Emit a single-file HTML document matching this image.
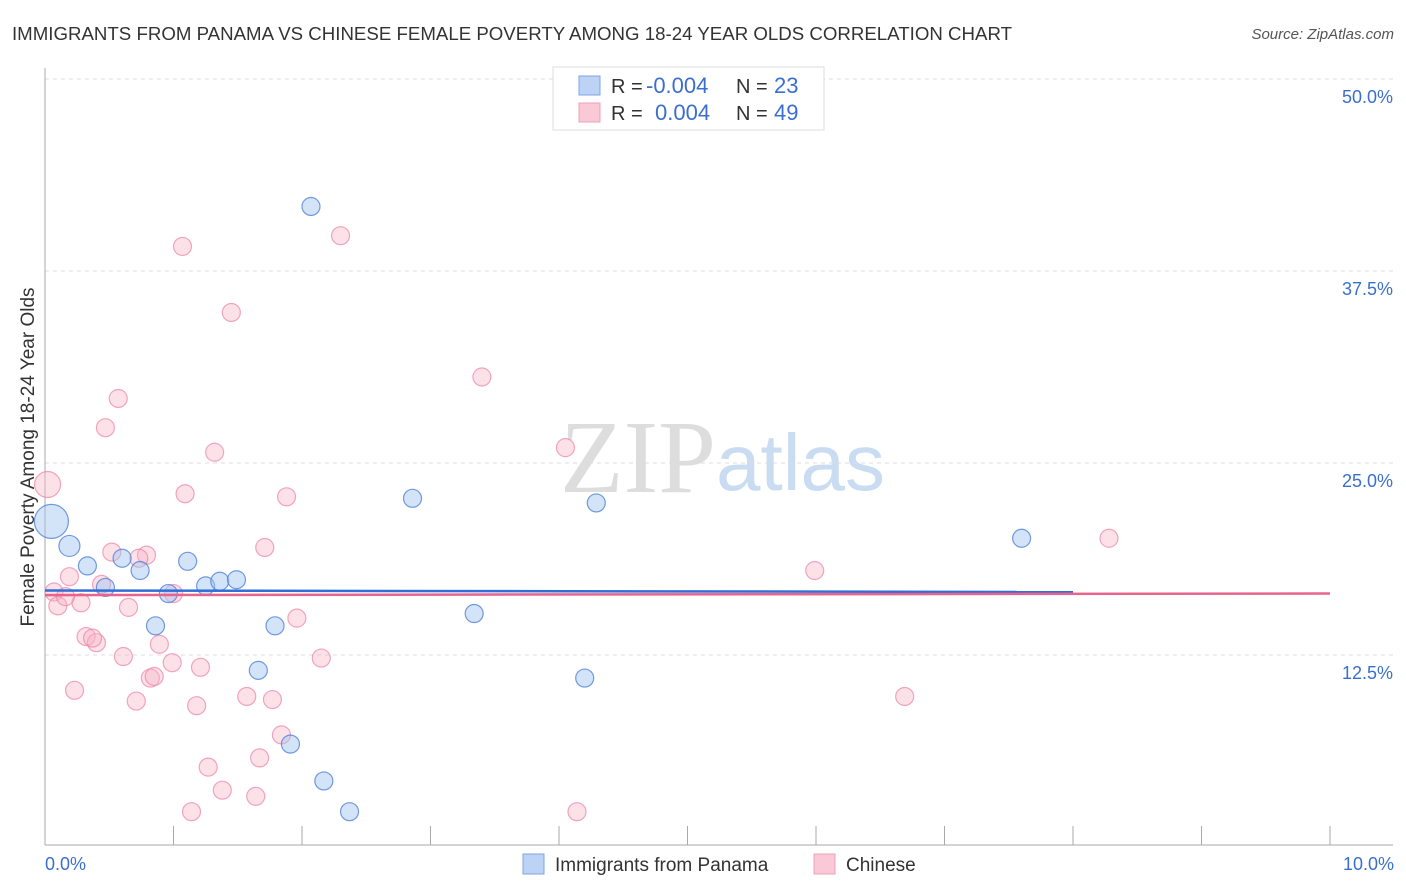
<!DOCTYPE html>
<html><head><meta charset="utf-8"><style>
body{margin:0;background:#fff;font-family:"Liberation Sans",sans-serif}
svg{display:block}
</style></head><body>
<svg id="chart" width="1406" height="892">
<text x="12" y="40" font-size="18" textLength="1000" lengthAdjust="spacingAndGlyphs" fill="#333">IMMIGRANTS FROM PANAMA VS CHINESE FEMALE POVERTY AMONG 18-24 YEAR OLDS CORRELATION CHART</text>
<text x="1394" y="39" font-size="15" fill="#555" font-style="italic" text-anchor="end">Source: ZipAtlas.com</text>
<text x="716" y="492" font-size="104" fill="#ddd" text-anchor="end" font-family="Liberation Serif,serif">ZIP</text>
<text x="716" y="490" font-size="80" fill="#c9dcf2">atlas</text>
<g id="grid"></g><g id="axes"></g><g id="marks"></g>
<text transform="translate(34,457) rotate(-90)" font-size="19" fill="#333" text-anchor="middle">Female Poverty Among 18-24 Year Olds</text>
<text x="45" y="870" font-size="18" fill="#3a6fd0">0.0%</text>
<text x="1394" y="870" font-size="18" fill="#3a6fd0" text-anchor="end">10.0%</text>
<g>
<rect x="553" y="67" width="271" height="63" fill="#fff" stroke="#ddd"/>
<rect x="579" y="76" width="21" height="19" fill="#bcd3f5" stroke="#7ea6e6"/>
<rect x="579" y="103" width="21" height="19" fill="#f9c9d7" stroke="#f0a0b8"/>
<text x="611" y="93" font-size="20" fill="#333">R = <tspan fill="#3a6fd0" x="646" font-size="22">-0.004</tspan></text>
<text x="736" y="93" font-size="20" fill="#333">N = <tspan fill="#3a6fd0" x="774" font-size="22">23</tspan></text>
<text x="611" y="120" font-size="20" fill="#333">R = <tspan fill="#3a6fd0" x="655" font-size="22">0.004</tspan></text>
<text x="736" y="120" font-size="20" fill="#333">N = <tspan fill="#3a6fd0" x="774" font-size="22">49</tspan></text>
</g>
<g>
<rect x="523" y="854" width="21" height="20" fill="#bcd3f5" stroke="#7ea6e6"/>
<text x="555" y="871" font-size="19" fill="#333">Immigrants from Panama</text>
<rect x="814" y="854" width="21" height="20" fill="#f9c9d7" stroke="#f0a0b8"/>
<text x="846" y="871" font-size="19" fill="#333">Chinese</text>
</g>
</svg>
<script>
const yTicks=[12.5,25,37.5,50];
const yTickLabels=["12.5%","25.0%","37.5%","50.0%"];
const xTicks=[0,1,2,3,4,5,6,7,8,9,10];
const panamaX=[0.05,0.19,0.33,0.60,0.74,0.86,0.96,1.11,1.25,1.36,1.49,1.66,1.79,1.91,2.07,2.17,2.37,2.86,3.34,4.20,4.29,7.60,0.47];
const panamaY=[21.2,19.6,18.3,18.8,18.0,14.4,16.5,18.6,17.0,17.3,17.4,11.5,14.4,6.7,41.7,4.3,2.3,22.7,15.2,11.0,22.4,20.1,16.9];
const chineseX=[0.02,0.07,0.10,0.16,0.19,0.23,0.28,0.32,0.40,0.44,0.47,0.52,0.57,0.61,0.65,0.71,0.79,0.73,0.82,0.85,0.89,0.99,1.00,1.07,1.09,1.14,1.18,1.21,1.27,1.32,1.38,1.45,1.57,1.64,1.67,1.71,1.77,1.84,1.88,1.96,2.15,2.30,3.40,4.05,4.14,5.99,6.69,8.28,0.37];
const chineseY=[23.6,16.6,15.7,16.3,17.6,10.2,15.9,13.7,13.3,17.1,27.3,19.2,29.2,12.4,15.6,9.5,19.0,18.8,11.0,11.1,13.2,12.0,16.5,39.1,23.0,2.3,9.2,11.7,5.2,25.7,3.7,34.8,9.8,3.3,5.8,19.5,9.6,7.3,22.8,14.9,12.3,39.8,30.6,26.0,2.3,18.0,9.8,20.1,13.6];
const panamaTrend=[[0,16.7],[8.0,16.6]];
const chineseTrend=[[0,16.4],[10,16.5]];
const X=v=>45+v*128.5, Y=v=>847-v*15.36;
const NS='http://www.w3.org/2000/svg';
function mk(p,t,a){const e=document.createElementNS(NS,t);for(const k in a)e.setAttribute(k,a[k]);p.appendChild(e);return e;}
const grid=document.getElementById('grid'),axes=document.getElementById('axes'),marks=document.getElementById('marks');
yTicks.forEach((t,i)=>{
 const l=mk(grid,'line',{x1:45,x2:1393,y1:Y(t),y2:Y(t),stroke:'#ddd','stroke-dasharray':'4,4'});
 
 
 const tx=mk(grid,'text',{x:1393,y:Y(t)+24,'font-size':18,fill:'#3a6fd0','text-anchor':'end'});
 tx.textContent=yTickLabels[i];
 
 
});
mk(axes,'line',{x1:45,x2:45,y1:68,y2:845,stroke:'#aaa'});
mk(axes,'line',{x1:45,x2:1393,y1:845,y2:845,stroke:'#aaa'});
xTicks.forEach(t=>{
 const l=mk(axes,'line',{x1:X(t),x2:X(t),y1:826,y2:845,stroke:'#aaa'});
 
 
});
function dots(xs,ys,fill,stroke,name){
 xs.forEach((x,i)=>{
  let r=9; if(name==='panama-point'&&i===0)r=17; if(name==='panama-point'&&i===1)r=10.5; if(name==='chinese-point'&&i===0)r=13;
  const c=mk(marks,'circle',{cx:X(x),cy:Y(ys[i]),r:r,fill:fill,stroke:stroke,'stroke-width':1.2});
  
  
 });
}
dots(chineseX,chineseY,'rgba(248,180,200,0.4)','rgba(236,130,165,0.7)','chinese-point');
dots(panamaX,panamaY,'rgba(160,195,240,0.45)','rgba(80,130,215,0.8)','panama-point');
const pl=mk(marks,'line',{x1:X(panamaTrend[0][0]),y1:Y(panamaTrend[0][1]),x2:X(panamaTrend[1][0]),y2:Y(panamaTrend[1][1]),stroke:'#2f6fd6','stroke-width':2.5});


const cl=mk(marks,'line',{x1:X(chineseTrend[0][0]),y1:Y(chineseTrend[0][1]),x2:X(chineseTrend[1][0]),y2:Y(chineseTrend[1][1]),stroke:'#e8648e','stroke-width':2.5});


</script>
</body></html>
